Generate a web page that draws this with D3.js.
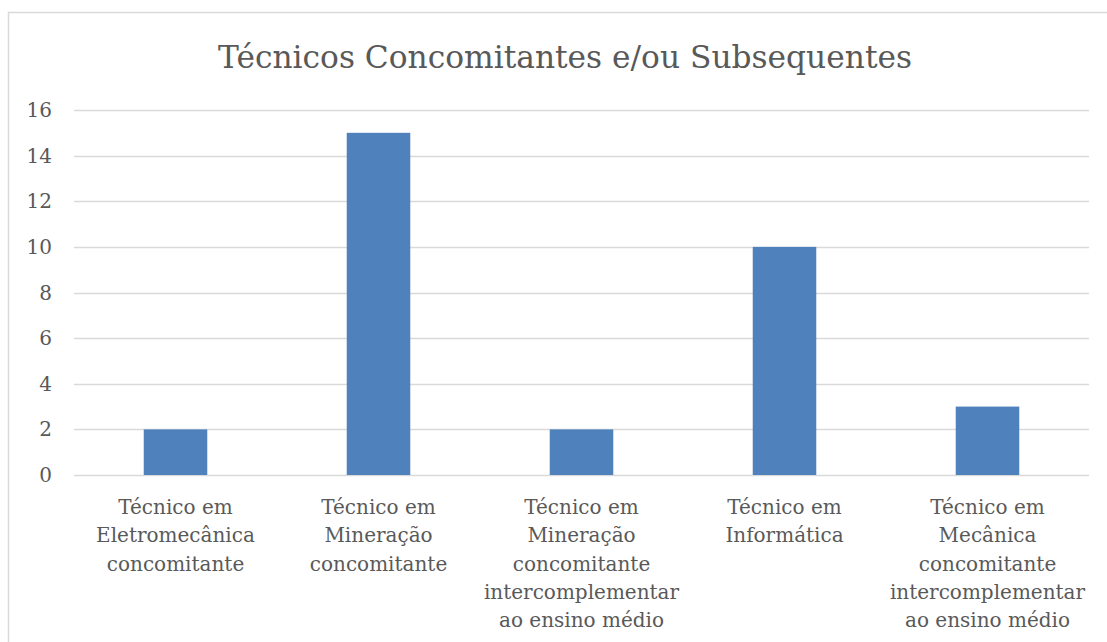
<!DOCTYPE html>
<meta charset="utf-8">
<script src="https://d3js.org/d3.v7.min.js"></script>
<style>
  body { margin: 0; background: #fff; }
</style>
<div id="my_dataviz"></div>
<script>

// data
var categories = [
  ["Técnico em", "Eletromecânica", "concomitante"],
  ["Técnico em", "Mineração", "concomitante"],
  ["Técnico em", "Mineração", "concomitante", "intercomplementar", "ao ensino médio"],
  ["Técnico em", "Informática"],
  ["Técnico em", "Mecânica", "concomitante", "intercomplementar", "ao ensino médio"]
];
var values = [2, 15, 2, 10, 3];
var yTicks = [0, 2, 4, 6, 8, 10, 12, 14, 16];
var title = "Técnicos Concomitantes e/ou Subsequentes";

var W = 1107, H = 642;
var margin = {top: 110, right: 18, bottom: 167, left: 74},
    width = W - margin.left - margin.right,
    height = H - margin.top - margin.bottom;

var font = "'DejaVu Serif', serif";

var root = d3.select("#my_dataviz")
  .append("svg")
    .attr("width", W)
    .attr("height", H);

// chart frame
root.append("rect")
  .attr("x", 8.5).attr("y", 12.5)
  .attr("width", 1130).attr("height", 660)
  .attr("fill", "none")
  .attr("stroke", "#d9d9d9")
  .attr("stroke-width", 1.5);

root.append("text")
  .attr("x", 565).attr("y", 68)
  .attr("text-anchor", "middle")
  .style("font-family", font)
  .style("font-size", "31px")
  .attr("textLength", 694)
  .attr("lengthAdjust", "spacingAndGlyphs")
  .attr("fill", "#595959")
  .text(title);

var svg = root.append("g")
  .attr("transform", "translate(" + margin.left + "," + margin.top + ")");

var idx = d3.range(categories.length);
var x = d3.scaleBand()
  .domain(idx)
  .range([0, width])
  .paddingInner(0.687)
  .paddingOuter(0.3435);

var y = d3.scaleLinear()
  .domain([0, 16])
  .range([height, 0]);

// gridlines
svg.append("g")
  .selectAll("line")
  .data(yTicks)
  .enter().append("line")
    .attr("x1", 0).attr("x2", width)
    .attr("y1", function(d) { return Math.round(y(d)) + 0.5; })
    .attr("y2", function(d) { return Math.round(y(d)) + 0.5; })
    .attr("stroke", "#d9d9d9")
    .attr("stroke-width", 1.5);

// y labels
svg.append("g")
  .selectAll("text")
  .data(yTicks)
  .enter().append("text")
    .attr("x", -22)
    .attr("y", function(d) { return y(d); })
    .attr("dy", "0.35em")
    .attr("text-anchor", "end")
    .style("font-family", font)
    .style("font-size", "20px")
    .attr("fill", "#595959")
    .text(function(d) { return d; });

// bars
svg.append("g")
  .selectAll("rect")
  .data(values)
  .enter().append("rect")
    .attr("x", function(d, i) { return x(i); })
    .attr("y", function(d) { return y(d); })
    .attr("width", x.bandwidth())
    .attr("height", function(d) { return y(0) - y(d); })
    .attr("fill", "#4f81bd");

// category labels
var lab = svg.append("g")
  .selectAll("text")
  .data(categories)
  .enter().append("text")
    .attr("text-anchor", "middle")
    .style("font-family", font)
    .style("font-size", "20px")
    .attr("fill", "#595959")
    .attr("transform", function(d, i) {
      return "translate(" + (x(i) + x.bandwidth() / 2) + "," + (height + 39) + ")";
    });

lab.selectAll("tspan")
  .data(function(d) { return d; })
  .enter().append("tspan")
    .attr("x", 0)
    .attr("y", function(d, i) { return i * 28.3; })
    .text(function(d) { return d; });

</script>
